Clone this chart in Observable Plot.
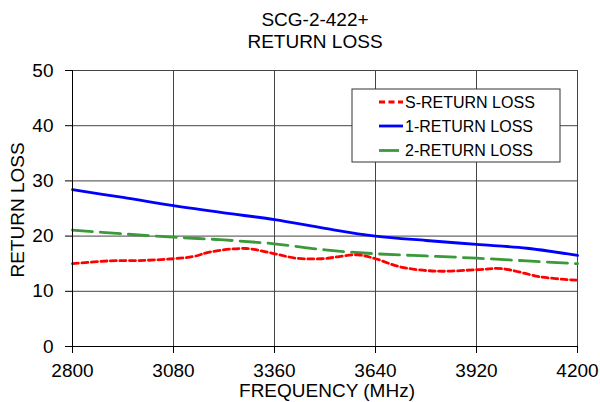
<!DOCTYPE html>
<html>
<head>
<meta charset="utf-8">
<script src="https://cdn.jsdelivr.net/npm/d3@7"></script>
<script src="https://cdn.jsdelivr.net/npm/@observablehq/plot@0.6"></script>
<style>
  html, body { margin: 0; padding: 0; background: #fff; }
  #chart { width: 600px; height: 402px; }
</style>
</head>
<body>
<div id="chart"></div>
<script>
// Data
const xTicks = [2800, 3080, 3360, 3640, 3920, 4200];
const yTicks = [0, 10, 20, 30, 40, 50];

const freqS = [2800, 2900, 3000, 3080, 3135, 3180, 3280, 3360, 3420, 3490, 3590, 3640, 3710, 3810, 3920, 3990, 4100, 4200];
const sReturnLoss = [15.0, 15.5, 15.6, 15.9, 16.3, 17.1, 17.75, 16.8, 16.0, 15.9, 16.6, 15.9, 14.4, 13.65, 13.9, 14.1, 12.6, 12.0];

const freq12 = [2800, 2940, 3080, 3220, 3360, 3500, 3640, 3780, 3920, 4060, 4200];
const oneReturnLoss = [28.4, 27.0, 25.5, 24.2, 23.0, 21.4, 20.0, 19.2, 18.5, 17.8, 16.5];
const twoReturnLoss = [21.1, 20.4, 19.8, 19.3, 18.6, 17.5, 16.8, 16.4, 16.0, 15.5, 15.0];

const seriesNames = ["S-RETURN LOSS", "1-RETURN LOSS", "2-RETURN LOSS"];
const seriesColors = ["#ff0000", "#0000ff", "#3a9a3a"];
const seriesDash = ["6,3.5", null, "20,8"];

const dataS = freqS.map((f, i) => ({f, v: sReturnLoss[i]}));
const data1 = freq12.map((f, i) => ({f, v: oneReturnLoss[i]}));
const data2 = freq12.map((f, i) => ({f, v: twoReturnLoss[i]}));

const FONT = "'Liberation Sans', Arial, sans-serif";
const gridColor = "#444";

const plot = Plot.plot({
  width: 600,
  height: 402,
  marginLeft: 72,
  marginRight: 23,
  marginTop: 70,
  marginBottom: 56,
  style: {fontFamily: FONT, fontSize: "19px", color: "#000", background: "#fff"},
  x: {domain: [2800, 4200], ticks: xTicks},
  y: {domain: [0, 50], ticks: yTicks},
  marks: [
    Plot.gridX(xTicks, {stroke: gridColor, strokeOpacity: 1, strokeWidth: 1}),
    Plot.gridY(yTicks, {stroke: gridColor, strokeOpacity: 1, strokeWidth: 1}),
    Plot.frame({stroke: gridColor}),
    Plot.line(data2, {x: "f", y: "v", stroke: seriesColors[2], strokeWidth: 2.8, strokeDasharray: seriesDash[2], curve: "catmull-rom"}),
    Plot.line(data1, {x: "f", y: "v", stroke: seriesColors[1], strokeWidth: 2.8, curve: "catmull-rom"}),
    Plot.line(dataS, {x: "f", y: "v", stroke: seriesColors[0], strokeWidth: 2.8, strokeDasharray: seriesDash[0], curve: "catmull-rom"}),
    Plot.ruleX([2800], {stroke: "#000"}),
    Plot.ruleY([0], {stroke: "#000"}),
    Plot.axisX(xTicks, {tickSize: 7, tickPadding: 10, fontSize: 19, label: null, stroke: "#000", tickFormat: d => String(d)}),
    Plot.axisY(yTicks, {tickSize: 7, tickPadding: 12, fontSize: 19, label: null, stroke: "#000", tickFormat: d => String(d)})
  ]
});

document.getElementById("chart").appendChild(plot);

const svg = d3.select(plot);
const addText = (x, y, txt, opts = {}) => {
  const t = svg.append("text")
    .attr("x", x).attr("y", y)
    .attr("text-anchor", opts.anchor || "middle")
    .attr("font-family", FONT)
    .attr("font-size", opts.size || 19)
    .attr("fill", "#000")
    .text(txt);
  if (opts.rotate) t.attr("transform", `rotate(-90 ${x} ${y})`);
  return t;
};

// Titles
addText(315, 26, "SCG-2-422+");
addText(315, 48, "RETURN LOSS");
// Axis labels
addText(327, 397, "FREQUENCY (MHz)");
addText(24, 210, "RETURN LOSS", {rotate: true});

// Legend
const lg = svg.append("g");
lg.append("rect")
  .attr("x", 352).attr("y", 89).attr("width", 208).attr("height", 73)
  .attr("fill", "#fff").attr("stroke", "#333").attr("stroke-width", 1);
const rowY = [102, 126, 150.5];
seriesNames.forEach((name, i) => {
  const l = lg.append("line")
    .attr("x1", 379).attr("x2", 403)
    .attr("y1", rowY[i]).attr("y2", rowY[i])
    .attr("stroke", seriesColors[i]).attr("stroke-width", 2.8);
  if (seriesDash[i]) l.attr("stroke-dasharray", seriesDash[i]);
  lg.append("text")
    .attr("x", 405).attr("y", rowY[i] + 5.5)
    .attr("text-anchor", "start")
    .attr("font-family", FONT).attr("font-size", 16).attr("fill", "#000")
    .text(name);
});
</script>
</body>
</html>
